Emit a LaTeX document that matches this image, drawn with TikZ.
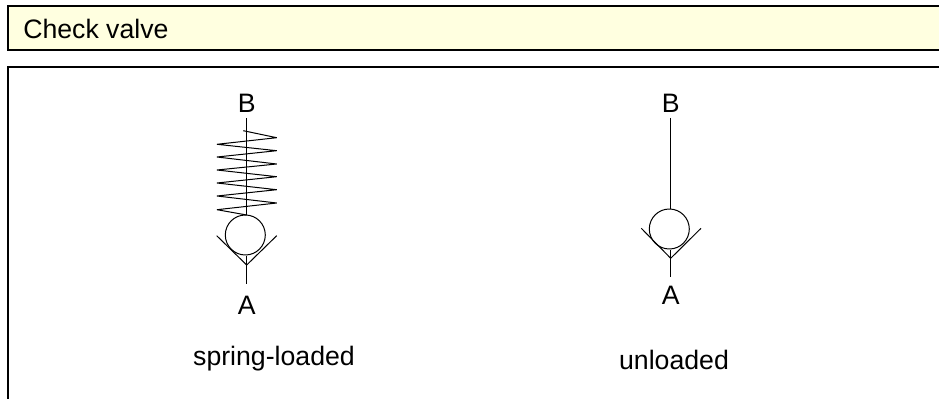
\documentclass[tikz,border=0pt]{standalone}
\usepackage{fontspec}
\setmainfont{Liberation Sans}
\definecolor{cabecera}{HTML}{FFFFE0}
\tikzset{
  etiqueta/.style={font=\fontsize{20}{24}\selectfont, inner sep=2pt},
  marco/.style={line width=1.5pt},
  simbolo/.style={line width=0.75pt, line join=bevel}
}
\begin{document}
\begin{tikzpicture}[x=0.75pt, y=-0.75pt]
    \useasboundingbox (0, 0) rectangle (939, 399);

    % Cabecera y marco
    \draw[marco, fill=cabecera] (8, 6) rectangle (950, 50);
    \draw[marco] (950, 67) -- (7.5, 67) -- (7.5, 410);
    \node[etiqueta, anchor=west, inner sep=0pt] (titulo) at (23, 28.5) {Check valve};

    % Valvula con resorte
    \node[etiqueta] (B1) at (246.7, 103) {B};
    \node[etiqueta] (A1) at (246.7, 305) {A};
    \node[simbolo, draw, circle, minimum size=40pt*0.75, inner sep=0pt] (bola1) at (245.3, 235) {};
    \coordinate (inicio1) at (246.7, 118);
    \coordinate (tope1) at (246.7, 215);
    \coordinate (vertice1) at (246.7, 265);
    \coordinate (fin1) at (246.7, 284);
    \coordinate (izq1) at (216.7, 235.7);
    \coordinate (der1) at (276.7, 235.7);
    \draw[simbolo] (inicio1) -- (tope1);
    \draw[simbolo] (vertice1) -- (fin1);
    \draw[simbolo] (izq1) -- (vertice1) -- (der1);
    \draw[simbolo] (bola1.south -| vertice1) -- (vertice1);
    \draw[simbolo] (243.3, 130.7) -- (276.7, 137.7) -- (217, 144.3) -- (276.7, 150.7)
      -- (217, 157) -- (276.7, 164) -- (217, 170) -- (276.7, 176.7) -- (217, 183)
      -- (276.7, 189.7) -- (217, 196) -- (276.7, 203) -- (217, 209.7) -- (tope1);

    % Valvula sin carga
    \node[etiqueta] (B2) at (670.7, 103) {B};
    \node[etiqueta] (A2) at (670.7, 295) {A};
    \node[simbolo, draw, circle, minimum size=40pt*0.75, inner sep=0pt] (bola2) at (669.3, 229) {};
    \coordinate (inicio2) at (670.7, 118);
    \coordinate (tope2) at (670.7, 209);
    \coordinate (vertice2) at (670.7, 258.3);
    \coordinate (fin2) at (670.7, 277.3);
    \coordinate (izq2) at (641.3, 228.3);
    \coordinate (der2) at (701, 228.3);
    \draw[simbolo] (inicio2) -- (tope2);
    \draw[simbolo] (vertice2) -- (fin2);
    \draw[simbolo] (izq2) -- (vertice2) -- (der2);
    \draw[simbolo] (bola2.south -| vertice2) -- (vertice2);

    % Nombres
    \node[etiqueta] (nombre1) at (274, 359) {spring-loaded};
    \node[etiqueta] (nombre2) at (674, 360) {unloaded};
\end{tikzpicture}
\end{document}
